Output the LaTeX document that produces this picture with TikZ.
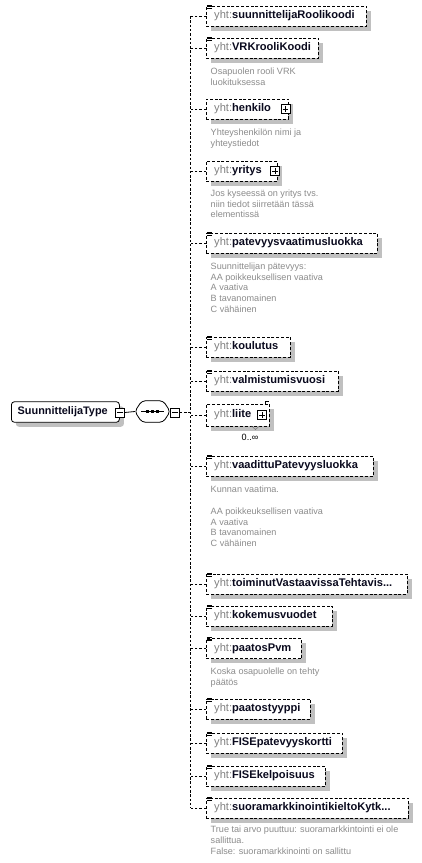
\documentclass[tikz,border=0pt]{standalone}
\usepackage{fontspec}
\setmainfont{Liberation Sans}
\usetikzlibrary{shadows}
\definecolor{shade}{HTML}{C0C0C0}
\definecolor{pref}{HTML}{808080}
\definecolor{desc}{HTML}{8C8C8C}
\definecolor{nm}{HTML}{0A0A1E}
\tikzset{
  conn/.style={line width=0.8pt, dash pattern=on 2.5pt off 1.8pt},
  solidconn/.style={line width=0.8pt},
  elembox/.style={draw, line width=0.8pt, dash pattern=on 3pt off 1.8pt, fill=white,
    minimum height=20pt, inner sep=0pt, anchor=west,
    drop shadow={shadow xshift=4.5pt, shadow yshift=-4.5pt, fill=shade, opacity=1}},
  elemtext/.style={anchor=west, inner sep=0pt, font=\fontsize{11.1}{13}\selectfont},
  desctext/.style={anchor=north west, inner sep=0pt, align=left, text=desc,
    font=\fontsize{9.1}{10.8}\selectfont},
  btn/.style={draw, fill=white, line width=0.7pt, minimum size=9pt, inner sep=0pt},
  iconline/.style={line width=0.6pt},
  typebox/.style={draw, line width=0.8pt, fill=white, rounded corners=3pt,
    minimum height=20.5pt, inner sep=0pt, anchor=west,
    drop shadow={shadow xshift=4.5pt, shadow yshift=-4.5pt, fill=shade, opacity=1}},
}
% minus / plus buttons
\newcommand\mbtn[2]{\node[btn] (#1) at #2 {};
  \draw[line width=0.7pt] ([xshift=2pt]#1.west) -- ([xshift=-2pt]#1.east);}
\newcommand\pbtn[2]{\node[btn] (#1) at #2 {};
  \draw[line width=0.7pt] ([xshift=2pt]#1.west) -- ([xshift=-2pt]#1.east);
  \draw[line width=0.7pt] ([yshift=-2pt]#1.north) -- ([yshift=2pt]#1.south);}
% element: name, yc, right edge, label
\newcommand\elm[4]{%
  \node[elembox, minimum width={#3-206}] (#1) at (206,#2) {};
  \node[elemtext] (#1t) at ([xshift=8pt]#1.west) {\textcolor{pref}{yht:}\textcolor{nm}{\bfseries #4}};
  \draw[conn] (#1.west) -- (#1.west -| busT);}
\newcommand\eqicon[1]{%
  \draw[iconline] (#1.north west) ++(0.8,-0.6) -- ++(5,0) ++(-5,1.5) -- ++(5,0) ++(-5,1.5) -- ++(5,0);}
\begin{document}
\begin{tikzpicture}[x=1pt, y=-1pt]
\useasboundingbox (0,0) rectangle (421,863);
\fill[white] (0,0) rectangle (421,863);

\coordinate (busT) at (190,16);
\coordinate (busB) at (190,808);
\draw[conn] (busT) -- (busB);

% type node
\node[typebox, minimum width=108pt] (type) at (11,412) {};
\node[elemtext, font=\fontsize{10.9}{13}\selectfont\bfseries, text=nm] (typet) at ([xshift=6.5pt]type.west) {SuunnittelijaType};
\mbtn{typem}{(120,412.5)}

% sequence compositor
\node[minimum width=35pt, minimum height=21pt, inner sep=0pt] (seq) at (152.5,411.5) {};
\fill[shade, rounded corners=3.5pt, xshift=4.5pt, yshift=-4.5pt] (seq.west) -- ([xshift=7pt]seq.north west) -- ([xshift=-7pt]seq.north east) -- (seq.east) -- ([xshift=-7pt]seq.south east) -- ([xshift=7pt]seq.south west) -- cycle;
\draw[line width=0.8pt, fill=white, rounded corners=3.5pt] (seq.west) -- ([xshift=7pt]seq.north west) -- ([xshift=-7pt]seq.north east) -- (seq.east) -- ([xshift=-7pt]seq.south east) -- ([xshift=7pt]seq.south west) -- cycle;
\draw[line width=0.8pt] ([xshift=6.5pt]seq.west) -- ([xshift=-6.5pt]seq.east);
\foreach \dx in {-4.8,0,4.8} \fill ([xshift=\dx pt]seq.center) ++(-1.3,-1.3) rectangle ++(2.6,2.6);
\mbtn{seqm}{(175,412.5)}
\draw[solidconn] (typem.east) -- (seq.west);
\draw[conn] (seqm.east) -- (seqm.east -| busT);

% elements
\elm{e1}{16}{366}{suunnittelijaRoolikoodi}\eqicon{e1}
\elm{e2}{48}{318}{VRKrooliKoodi}\eqicon{e2}
\node[desctext] (d2) at (210.5,66.5) {\rule{0pt}{7.5pt}Osapuolen rooli VRK\\luokituksessa};
\elm{e3}{109}{288}{henkilo}
\pbtn{e3p}{(285.5,109)}
\node[desctext] (d3) at (210.5,127.5) {\rule{0pt}{7.5pt}Yhteyshenkilön nimi ja\\yhteystiedot};
\elm{e4}{171}{277}{yritys}
\pbtn{e4p}{(275,171)}
\node[desctext] (d4) at (210.5,188.5) {\rule{0pt}{7.5pt}Jos kyseessä on yritys tvs.\\niin tiedot siirretään tässä\\elementissä};
\elm{e5}{243}{377}{patevyysvaatimusluokka}\eqicon{e5}
\node[desctext] (d5) at (210.5,261.5) {\rule{0pt}{7.5pt}Suunnittelijan pätevyys:\\AA poikkeuksellisen vaativa\\A vaativa\\B tavanomainen\\C vähäinen};
\elm{e6}{347}{290}{koulutus}\eqicon{e6}
\elm{e7}{381}{338}{valmistumisvuosi}\eqicon{e7}
\node[elembox, minimum width=63pt, minimum height=22pt] (e8) at (206,415) {};
\node[elemtext] (e8t) at ([xshift=8pt]e8.west) {\textcolor{pref}{yht:}\textcolor{nm}{\bfseries liite}};
\draw[conn] (e8.west) -- (e8.west -| busT);
\pbtn{e8p}{(262,415)}
\draw[line width=0.6pt] ([xshift=-5pt]e8.north east) -- ++(0,-2.5) -- ++(4,0);
\draw[line width=0.5pt, shade!60!black] (251.5,426) -- (255.5,429.5) -- (259.5,426);
\node[inner sep=0pt, font=\fontsize{9.1}{10.8}\selectfont] (e8o) at (250,437) {0..∞};
\elm{e9}{466}{373}{vaadittuPatevyysluokka}\eqicon{e9}
\node[desctext] (d9) at (210.5,485) {\rule{0pt}{7.5pt}Kunnan vaatima.\\[10.8pt]AA poikkeuksellisen vaativa\\A vaativa\\B tavanomainen\\C vähäinen};
\elm{e10}{584}{407}{toiminutVastaavissaTehtavis...}\eqicon{e10}
\elm{e11}{616}{332}{kokemusvuodet}\eqicon{e11}
\elm{e12}{648.5}{301}{paatosPvm}\eqicon{e12}
\node[desctext] (d12) at (210.5,666.8) {\rule{0pt}{7.5pt}Koska osapuolelle on tehty\\päätös};
\elm{e13}{709}{310}{paatostyyppi}\eqicon{e13}
\elm{e14}{743}{342}{FISEpatevyyskortti}\eqicon{e14}
\elm{e15}{776}{325}{FISEkelpoisuus}\eqicon{e15}
\elm{e16}{808}{408}{suoramarkkinointikieltoKytk...}\eqicon{e16}
\node[desctext] (d16) at (210.5,825.1) {\rule{0pt}{7.5pt}True tai arvo puuttuu: suoramarkkintointi ei ole\\sallittua.\\False: suoramarkkinointi on sallittu};
\end{tikzpicture}
\end{document}
